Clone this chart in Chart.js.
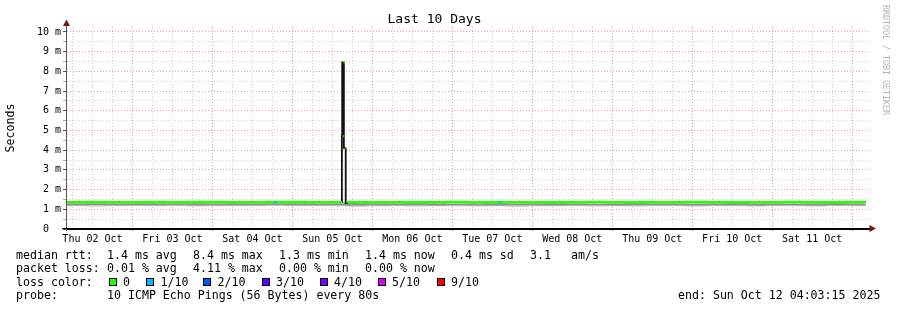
<!DOCTYPE html>
<html>
<head>
<meta charset="utf-8">
<script src="https://cdn.jsdelivr.net/npm/chart.js@4/dist/chart.umd.min.js"></script>
<style>
  html, body { margin: 0; padding: 0; background: #fff; }
  #wrap { position: relative; width: 897px; height: 310px; }
</style>
</head>
<body>
<div id="wrap"><canvas id="pingGraph" width="897" height="310"></canvas></div>
<script>
// graph starts Thu 02 Oct 04:03:15, x values are hours since then
const START_HOUR = 4 + 3 / 60 + 15 / 3600;

const dayLabels = ["Thu 02 Oct", "Fri 03 Oct", "Sat 04 Oct", "Sun 05 Oct", "Mon 06 Oct",
  "Tue 07 Oct", "Wed 08 Oct", "Thu 09 Oct", "Fri 10 Oct", "Sat 11 Oct"];

const hours = [0, 6, 12, 18, 24, 30, 36, 42, 48, 54, 60, 66, 72, 78,
  82.8, 82.9, 83.4, 83.95, 84.55,
  90, 96, 102, 108, 114, 120, 126, 132, 138, 144, 150, 156, 162,
  168, 174, 180, 186, 192, 198, 204, 210, 216, 222, 228, 234, 240];

// median rtt in ms
const median = [1.37, 1.36, 1.37, 1.36, 1.36, 1.37, 1.36, 1.37, 1.37, 1.36, 1.36, 1.37, 1.37, 1.36,
  1.36, 4.72, 8.45, 4.12, 1.31,
  1.35, 1.36, 1.36, 1.35, 1.36, 1.37, 1.36, 1.35, 1.36, 1.36, 1.35, 1.36, 1.37,
  1.36, 1.35, 1.36, 1.36, 1.37, 1.36, 1.35, 1.36, 1.36, 1.37, 1.36, 1.35, 1.37];

// smoke (spread of the pings) in ms
const smokeLo = [1.15, 1.16, 1.14, 1.15, 1.17, 1.15, 1.16, 1.14, 1.15, 1.16, 1.15, 1.17, 1.15, 1.16,
  1.16, 1.16, 1.16, 1.16, 1.14,
  1.13, 1.14, 1.15, 1.14, 1.16, 1.15, 1.14, 1.15, 1.13, 1.14, 1.16, 1.15, 1.14,
  1.15, 1.14, 1.16, 1.15, 1.14, 1.15, 1.16, 1.14, 1.15, 1.15, 1.14, 1.16, 1.15];
const smokeHi = [1.40, 1.40, 1.41, 1.40, 1.40, 1.41, 1.40, 1.40, 1.41, 1.40, 1.40, 1.40, 1.41, 1.40,
  1.40, 1.40, 1.40, 1.40, 1.39,
  1.39, 1.40, 1.40, 1.39, 1.40, 1.40, 1.40, 1.39, 1.40, 1.40, 1.39, 1.40, 1.40,
  1.40, 1.39, 1.40, 1.40, 1.40, 1.40, 1.39, 1.40, 1.40, 1.40, 1.40, 1.39, 1.40];
const darkLo = [1.21, 1.20, 1.22, 1.21, 1.20, 1.21, 1.22, 1.20, 1.21, 1.21, 1.20, 1.22, 1.21, 1.20,
  1.21, 1.21, 1.21, 1.21, 1.19,
  1.19, 1.20, 1.21, 1.20, 1.19, 1.20, 1.21, 1.19, 1.20, 1.20, 1.19, 1.21, 1.20,
  1.19, 1.20, 1.21, 1.20, 1.19, 1.20, 1.20, 1.19, 1.21, 1.20, 1.19, 1.20, 1.20];
const darkHi = [1.29, 1.28, 1.29, 1.28, 1.29, 1.29, 1.28, 1.29, 1.28, 1.29, 1.28, 1.29, 1.29, 1.28,
  1.28, 1.28, 1.28, 1.28, 1.27,
  1.27, 1.28, 1.28, 1.27, 1.28, 1.27, 1.28, 1.27, 1.28, 1.28, 1.27, 1.28, 1.27,
  1.28, 1.27, 1.28, 1.28, 1.27, 1.28, 1.27, 1.28, 1.28, 1.27, 1.28, 1.27, 1.28];

// short loss events (1/10)
const lossHours = [62.7, 130.3];
const lossValues = [1.37, 1.37];

// zero-loss marks on the spike plateaus
const spikeMarkHours = [83.3, 83.5, 84.05];
const spikeMarkValues = [4.72, 8.45, 4.12];

const spikeIdx = [15, 16, 17];

const yTickValues = [0, 0.5, 1, 1.5, 2, 2.5, 3, 3.5, 4, 4.5, 5, 5.5, 6, 6.5, 7, 7.5, 8, 8.5, 9, 9.5, 10];

const lossColors = ["#26ff00", "#00b8ff", "#0059ff", "#5e00ff", "#7e00ff", "#dd00ff", "#ff0000"];
const lossLabels = ["0", "1/10", "2/10", "3/10", "4/10", "5/10", "9/10"];
const rttStats = ["1.4 ms avg", "8.4 ms max", "1.3 ms min", "1.4 ms now", "0.4 ms sd", "3.1", "am/s"];
const lossStats = ["0.01 % avg", "4.11 % max", "0.00 % min", "0.00 % now"];
const probeText = "10 ICMP Echo Pings (56 Bytes) every 80s";
const endText = "end: Sun Oct 12 04:03:15 2025";

const MONO = '"DejaVu Sans Mono", monospace';
const RED_GRID = "#f0a0a0";
const GRAY_GRID = "#d0d0d0";

const pts = (vals) => hours.map((h, i) => ({ x: h, y: vals[i] }));
const greenMedian = median.map((v, i) => spikeIdx.includes(i) ? null : v);

function hourOfDay(v) {
  return (((v + START_HOUR) % 24) + 24) % 24;
}
function isMidnight(v) {
  const h = hourOfDay(v);
  return h < 0.01 || h > 23.99;
}

const extras = {
  id: "extras",
  afterDraw(chart) {
    const ctx = chart.ctx;
    ctx.save();

    // axis extensions
    ctx.lineWidth = 1;
    ctx.strokeStyle = "#555";
    ctx.beginPath(); ctx.moveTo(66.5, 231); ctx.lineTo(66.5, 24); ctx.stroke();
    ctx.strokeStyle = "#000";
    ctx.beginPath(); ctx.moveTo(62, 228.5); ctx.lineTo(871, 228.5); ctx.stroke();

    // arrows
    ctx.fillStyle = "#7a1414";
    ctx.beginPath(); ctx.moveTo(66.5, 19.5); ctx.lineTo(63, 26); ctx.lineTo(70, 26); ctx.closePath(); ctx.fill();
    ctx.beginPath(); ctx.moveTo(876, 228.5); ctx.lineTo(869.5, 225); ctx.lineTo(869.5, 232); ctx.closePath(); ctx.fill();

    // watermark
    ctx.save();
    ctx.translate(885, 5);
    ctx.rotate(Math.PI / 2);
    ctx.font = "8.3px " + MONO;
    ctx.fillStyle = "#b4b4b4";
    ctx.textBaseline = "middle";
    ctx.fillText("RRDTOOL / TOBI OETIKER", 0, 0);
    ctx.restore();

    // legend
    ctx.font = "11.6px " + MONO;
    ctx.fillStyle = "#000";
    ctx.textBaseline = "alphabetic";
    const rows = [258.5, 272, 285.5, 299];
    ctx.fillText("median rtt:", 16, rows[0]);
    [107, 193, 279, 365, 451, 530, 571].forEach((x, i) => ctx.fillText(rttStats[i], x, rows[0]));
    ctx.fillText("packet loss:", 16, rows[1]);
    [107, 193, 279, 365].forEach((x, i) => ctx.fillText(lossStats[i], x, rows[1]));
    ctx.fillText("loss color:", 16, rows[2]);
    const sq = [109, 146, 203, 262, 320, 378, 437];
    const lx = [123, 160.5, 217.5, 276, 334, 392, 451];
    sq.forEach((x, i) => {
      ctx.fillStyle = lossColors[i];
      ctx.fillRect(x, 278, 8, 8);
      ctx.strokeStyle = "#000";
      ctx.strokeRect(x + 0.5, 278.5, 7, 7);
      ctx.fillStyle = "#000";
      ctx.fillText(lossLabels[i], lx[i], rows[2]);
    });
    ctx.fillText("probe:", 16, rows[3]);
    ctx.fillText(probeText, 107, rows[3]);
    ctx.fillText(endText, 678, rows[3]);

    ctx.restore();
  }
};

new Chart(document.getElementById("pingGraph"), {
  type: "line",
  data: {
    datasets: [
      {
        label: "loss 1/10",
        data: lossHours.map((h, i) => ({ x: h, y: lossValues[i] })),
        showLine: false,
        pointStyle: "rect",
        pointRadius: 1.6,
        backgroundColor: lossColors[1],
        borderColor: lossColors[1],
        borderWidth: 0
      },
      {
        label: "spike loss 0",
        data: spikeMarkHours.map((h, i) => ({ x: h, y: spikeMarkValues[i] })),
        showLine: false,
        pointStyle: "rect",
        pointRadius: 1.2,
        backgroundColor: lossColors[0],
        borderColor: lossColors[0],
        borderWidth: 0
      },
      {
        label: "median",
        data: pts(greenMedian),
        stepped: "after",
        borderColor: lossColors[0],
        borderWidth: 2.6,
        pointRadius: 0,
        fill: false
      },
      {
        label: "median line",
        data: pts(median),
        stepped: "after",
        borderColor: "#111",
        borderWidth: 1.8,
        pointRadius: 0,
        fill: false
      },
      {
        label: "smoke dark",
        data: pts(darkHi),
        stepped: "after",
        borderColor: "rgba(0,0,0,0)",
        borderWidth: 0,
        pointRadius: 0,
        backgroundColor: "#8e8e8e",
        fill: { target: 5 }
      },
      {
        label: "smoke dark lo",
        data: pts(darkLo),
        stepped: "after",
        borderColor: "rgba(0,0,0,0)",
        borderWidth: 0,
        pointRadius: 0,
        fill: false
      },
      {
        label: "smoke",
        data: pts(smokeHi),
        stepped: "after",
        borderColor: "rgba(0,0,0,0)",
        borderWidth: 0,
        pointRadius: 0,
        backgroundColor: "#c6c6c6",
        fill: { target: 7 }
      },
      {
        label: "smoke lo",
        data: pts(smokeLo),
        stepped: "after",
        borderColor: "rgba(0,0,0,0)",
        borderWidth: 0,
        pointRadius: 0,
        fill: false
      }
    ]
  },
  options: {
    responsive: false,
    animation: false,
    devicePixelRatio: 1,
    layout: { padding: { left: 0, right: 28, top: 0, bottom: 62 } },
    plugins: {
      legend: { display: false },
      tooltip: { enabled: false },
      title: {
        display: true,
        text: "Last 10 Days",
        color: "#000",
        font: { family: MONO, size: 13, weight: "normal", lineHeight: "15px" },
        padding: { top: 12, bottom: 0 }
      }
    },
    scales: {
      x: {
        type: "linear",
        min: 0,
        max: 241,
        afterBuildTicks(s) {
          const t = [];
          for (let j = 1; j <= 40; j++) t.push({ value: 6 * j - START_HOUR });
          s.ticks = t;
        },
        afterFit(s) { s.height = 19; s.paddingLeft = 0; s.paddingRight = 0; },
        ticks: {
          autoSkip: false,
          maxRotation: 0,
          padding: 2,
          color: "#000",
          font: { family: MONO, size: 10 },
          callback(v) {
            if (Math.abs(hourOfDay(v) - 12) < 0.01) {
              return dayLabels[Math.round((v + START_HOUR - 12) / 24)];
            }
            return "";
          }
        },
        grid: {
          color: (c) => isMidnight(c.tick.value) ? RED_GRID : GRAY_GRID,
          tickColor: (c) => isMidnight(c.tick.value) ? "#d06060" : "rgba(0,0,0,0)",
          tickLength: 2,
          lineWidth: 1
        },
        border: { color: "#000", dash: [1, 2] }
      },
      y: {
        min: 0,
        max: 10.25,
        afterBuildTicks(s) { s.ticks = yTickValues.map((v) => ({ value: v })); },
        afterFit(s) { s.width = 66; s.paddingTop = 0; s.paddingBottom = 0; },
        ticks: {
          autoSkip: false,
          padding: 2,
          color: "#000",
          font: { family: MONO, size: 10 },
          callback(v) {
            if (!Number.isInteger(v)) return "";
            return v === 0 ? "0  " : v + " m";
          }
        },
        grid: {
          color: (c) => Number.isInteger(c.tick.value) ? RED_GRID : GRAY_GRID,
          tickColor: (c) => Number.isInteger(c.tick.value) ? "#555" : "#aaa",
          tickLength: 3,
          lineWidth: 1
        },
        border: { color: "#555", dash: [1, 2] },
        title: {
          display: true,
          text: "Seconds",
          color: "#000",
          font: { family: MONO, size: 11.6 },
          padding: { top: 4, bottom: 0 }
        }
      }
    }
  },
  plugins: [extras]
});
</script>
</body>
</html>
